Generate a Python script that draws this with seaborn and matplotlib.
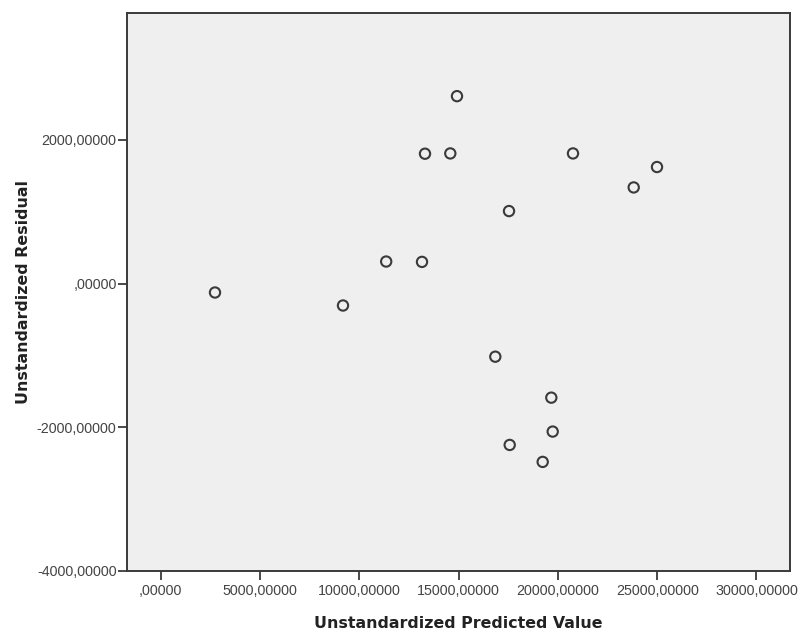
import matplotlib
matplotlib.use("Agg")
import matplotlib.pyplot as plt
import matplotlib.ticker as mticker
import pandas as pd
import seaborn as sns

# valores (previsto x residuo)
previsto = [2734, 9179, 11354, 13157, 13308, 14582, 14919, 17538,
            20760, 23817, 24990, 16848, 19668, 19738, 17573, 19234]
residuo = [-125, -306, 306, 301, 1806, 1810, 2607, 1008,
           1810, 1337, 1621, -1018, -1588, -2060, -2246, -2482]

x_ticks = [0, 5000, 10000, 15000, 20000, 25000, 30000]
y_ticks = [-4000, -2000, 0, 2000]

df = pd.DataFrame({"previsto": previsto, "residuo": residuo})


def formato_spss(v, pos=None):
    s = f"{v:.5f}".replace(".", ",")
    if s.startswith("0,"):
        s = s[1:]
    elif s.startswith("-0,"):
        s = "-" + s[2:]
    return s


sns.set_theme(style="white")
plt.rcParams["font.family"] = ["Liberation Sans", "DejaVu Sans"]

fig = plt.figure(figsize=(8.01, 6.33), dpi=100)
ax = fig.add_axes([127 / 801, 1 - 571 / 633, (790 - 127) / 801, (571 - 13) / 633])
ax.set_facecolor("#efefef")

sns.scatterplot(
    data=df, x="previsto", y="residuo", ax=ax,
    marker="o", s=55, facecolor="none", edgecolor="#3a3a3a", linewidth=1.5,
)

ax.set_xlim(-1697, 31687)
ax.set_ylim(-4000, 3764)
ax.set_xticks(x_ticks)
ax.set_yticks(y_ticks)
ax.xaxis.set_major_formatter(mticker.FuncFormatter(formato_spss))
ax.yaxis.set_major_formatter(mticker.FuncFormatter(formato_spss))

for lado in ["left", "bottom", "right", "top"]:
    ax.spines[lado].set_color("#3a3a3a")
    ax.spines[lado].set_linewidth(1.4)

ax.tick_params(axis="both", direction="out", length=6.5, width=1.3,
               color="#3a3a3a", labelsize=10.3, labelcolor="#444444",
               bottom=True, left=True, right=False, top=False)
ax.tick_params(axis="x", pad=3)
ax.tick_params(axis="y", pad=1)

ax.set_xlabel("Unstandardized Predicted Value", fontsize=11.4, fontweight="bold",
              color="#222222", family="DejaVu Sans", labelpad=13)
ax.set_ylabel("Unstandardized Residual", fontsize=11.4, fontweight="bold",
              color="#222222", family="DejaVu Sans", labelpad=4)

fig.savefig("out.png", dpi=100)
